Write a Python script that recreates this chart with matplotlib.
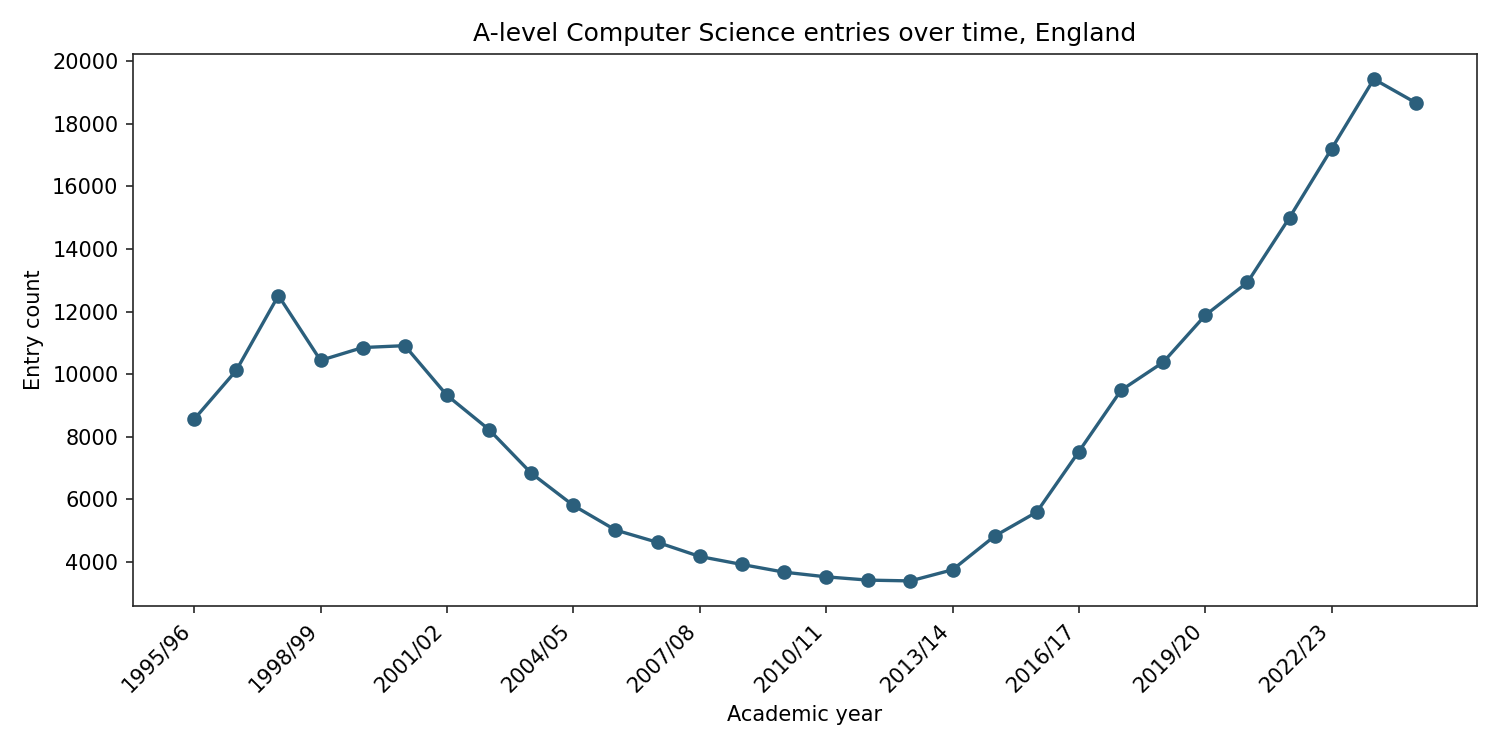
"""A-level Computer Science entries in England, 1995/96 to 2024/25."""

import matplotlib

matplotlib.use("Agg")
import matplotlib.pyplot as plt

start_years = list(range(1995, 2025))
academic_years = [f"{y}/{str(y + 1)[-2:]}" for y in start_years]

entries = [
    8560, 10120, 12510, 10440, 10850, 10910, 9325, 8230, 6840, 5810,
    5025, 4630, 4180, 3925, 3680, 3530, 3425, 3400, 3755, 4830,
    5598, 7530, 9485, 10380, 11880, 12930, 15000, 17200, 19420, 18660,
]

LINE_COLOR = "#2b5f7c"
EDGE = "#262626"


def main() -> None:
    fig, ax = plt.subplots(figsize=(10, 5), dpi=150)
    x = list(range(len(academic_years)))
    ax.plot(x, entries, color=LINE_COLOR, linewidth=1.6, marker="o", markersize=6)

    ax.set_xticks(x[::3])
    ax.set_xticklabels(academic_years[::3], rotation=45, ha="right")

    ax.set_title("A-level Computer Science entries over time, England")
    ax.set_xlabel("Academic year")
    ax.set_ylabel("Entry count")

    for spine in ax.spines.values():
        spine.set_color(EDGE)
    ax.tick_params(colors=EDGE, labelcolor="black")

    fig.subplots_adjust(left=0.0887, right=0.9847, top=0.928, bottom=0.192)
    fig.savefig("out.png", dpi=150)


if __name__ == "__main__":
    main()
